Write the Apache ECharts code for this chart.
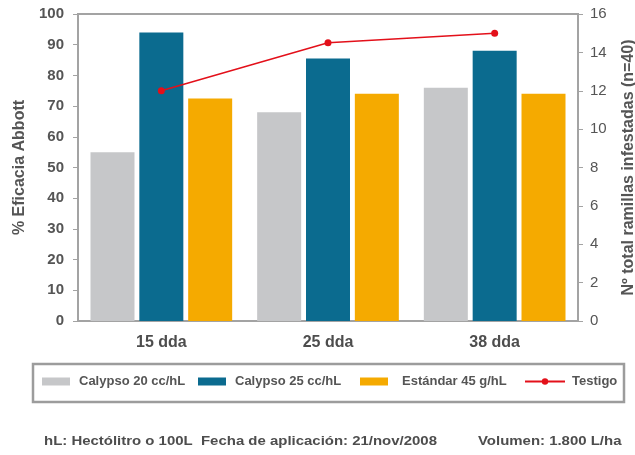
<!DOCTYPE html>
<html>
<head>
<meta charset="utf-8">
<script src="https://cdn.jsdelivr.net/npm/echarts@6/dist/echarts.min.js"></script>
<style>
  html, body { margin: 0; padding: 0; background: #ffffff; }
  #chart { width: 635px; height: 455px; }
</style>
</head>
<body>
<div id="chart"></div>
<script>
// categorias (dias despues de aplicacion)
var categories = ['15 dda', '25 dda', '38 dda'];
// % eficacia Abbott
var calypso20 = [55, 68, 76];
var calypso25 = [94, 85.5, 88];
var estandar45 = [72.5, 74, 74];
// Nº total ramillas infestadas (testigo)
var testigo = [12, 14.5, 15];

var seriesNames = ['Calypso 20 cc/hL', 'Calypso 25 cc/hL', 'Estándar 45 g/hL', 'Testigo'];
var colors = ['#c6c7c9', '#0b6b8f', '#f5aa00', '#e3101a'];

var chart = echarts.init(document.getElementById('chart'), null, { renderer: 'canvas' });

var font = '"Liberation Sans", Arial, sans-serif';
var axisGray = '#a3a3a3';

// leyendas separadas para colocar cada item
var legendLeft = [42, 198, 360, 524];
var legends = [];
for (var i = 0; i < 4; i++) {
  legends.push({
    data: [seriesNames[i]],
    left: legendLeft[i],
    top: 375,
    padding: 0,
    itemWidth: i === 3 ? 40 : 28,
    itemHeight: 8,
    icon: i === 3 ? undefined : 'rect',
    selectedMode: false,
    textStyle: {
      fontFamily: font,
      fontSize: 13,
      fontWeight: 'bold',
      color: '#555555',
      padding: [0, 0, 0, i === 2 ? 9 : (i === 3 ? 2 : 4)]
    }
  });
}

var barBase = {
  type: 'bar',
  barWidth: 44,
  barGap: '11%',
  yAxisIndex: 0
};

var option = {
  animation: false,
  backgroundColor: '#ffffff',
  grid: {
    left: 78,
    right: 57,
    top: 14,
    bottom: 134,
    outerBoundsMode: 'none',
    show: true,
    borderColor: axisGray,
    borderWidth: 2
  },
  legend: legends,
  xAxis: {
    type: 'category',
    data: categories,
    axisLine: { lineStyle: { color: axisGray, width: 2 } },
    axisTick: { show: false },
    axisLabel: {
      margin: 14,
      fontFamily: font,
      fontSize: 16,
      fontWeight: 'bold',
      color: '#4d4d4d'
    }
  },
  yAxis: [{
    type: 'value',
    min: 0,
    max: 100,
    interval: 10,
    name: '% Eficacia Abbott',
    nameLocation: 'middle',
    nameGap: 50,
    nameTextStyle: { fontFamily: font, fontSize: 16, fontWeight: 'bold', color: '#555555' },
    axisLine: { show: true, lineStyle: { color: axisGray, width: 2 } },
    axisTick: { show: true, length: 5, lineStyle: { color: axisGray } },
    splitLine: { show: false },
    axisLabel: {
      margin: 14,
      fontFamily: font,
      fontSize: 15,
      fontWeight: 'bold',
      color: '#555555'
    }
  }, {
    type: 'value',
    min: 0,
    max: 16,
    interval: 2,
    position: 'right',
    name: 'Nº total ramillas infestadas (n=40)',
    nameLocation: 'middle',
    nameGap: 43,
    nameRotate: 90,
    nameTextStyle: { fontFamily: font, fontSize: 16, fontWeight: 'bold', color: '#555555' },
    axisLine: { show: true, lineStyle: { color: axisGray, width: 2 } },
    axisTick: { show: true, length: 5, lineStyle: { color: axisGray } },
    splitLine: { show: false },
    axisLabel: {
      margin: 12,
      fontFamily: font,
      fontSize: 15,
      color: '#555555'
    }
  }],
  series: [
    Object.assign({}, barBase, { name: seriesNames[0], data: calypso20, itemStyle: { color: colors[0] } }),
    Object.assign({}, barBase, { name: seriesNames[1], data: calypso25, itemStyle: { color: colors[1] } }),
    Object.assign({}, barBase, { name: seriesNames[2], data: estandar45, itemStyle: { color: colors[2] } }),
    {
      name: seriesNames[3],
      type: 'line',
      yAxisIndex: 1,
      data: testigo,
      symbol: 'circle',
      symbolSize: 7,
      lineStyle: { color: colors[3], width: 1.5 },
      itemStyle: { color: colors[3] }
    }
  ],
  graphic: [
    // marco de la leyenda
    {
      type: 'rect',
      shape: { x: 33, y: 364, width: 591, height: 38 },
      style: { fill: 'none', stroke: '#9c9c9c', lineWidth: 2.5 },
      z: -1
    },
    // notas al pie (texto ensanchado como en el original)
    {
      type: 'text',
      x: 44,
      y: 441,
      scaleX: 1.15,
      style: {
        text: 'hL: Hectólitro o 100L  Fecha de aplicación: 21/nov/2008',
        font: 'bold 13px ' + font,
        fill: '#4d4d4d',
        verticalAlign: 'middle'
      }
    },
    {
      type: 'text',
      x: 478,
      y: 441,
      scaleX: 1.15,
      style: {
        text: 'Volumen: 1.800 L/ha',
        font: 'bold 13px ' + font,
        fill: '#4d4d4d',
        verticalAlign: 'middle'
      }
    }
  ]
};

chart.setOption(option);
</script>
</body>
</html>
